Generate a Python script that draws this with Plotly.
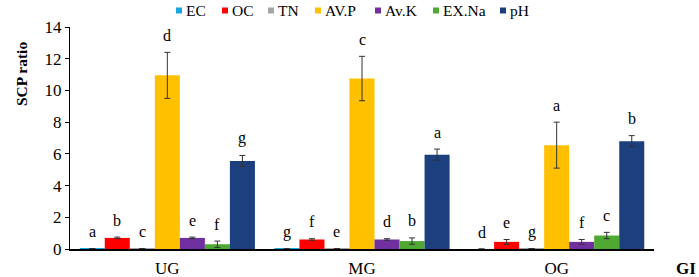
import plotly.graph_objects as go

groups = ["UG", "MG", "OG"]
series = ["EC", "OC", "TN", "AV.P", "Av.K", "EX.Na", "pH"]
colors = ["#1aa7e0", "#ff0000", "#a5a5a5", "#ffc000", "#7030a0", "#4ea832", "#1c3f7e"]

values = {
    "EC":    [0.03, 0.03, 0.0],
    "OC":    [0.70, 0.60, 0.45],
    "TN":    [0.03, 0.03, 0.03],
    "AV.P":  [10.95, 10.75, 6.55],
    "Av.K":  [0.70, 0.60, 0.45],
    "EX.Na": [0.30, 0.50, 0.85],
    "pH":    [5.55, 5.95, 6.80],
}
errors = {
    "EC":    [0.0, 0.0, 0.0],
    "OC":    [0.05, 0.05, 0.15],
    "TN":    [0.0, 0.0, 0.0],
    "AV.P":  [1.45, 1.40, 1.45],
    "Av.K":  [0.05, 0.05, 0.15],
    "EX.Na": [0.20, 0.20, 0.20],
    "pH":    [0.35, 0.35, 0.35],
}
letters = {
    "EC":    ["a", "g", "d"],
    "OC":    ["b", "f", "e"],
    "TN":    ["c", "e", "g"],
    "AV.P":  ["d", "c", "a"],
    "Av.K":  ["e", "d", "f"],
    "EX.Na": ["f", "b", "c"],
    "pH":    ["g", "a", "b"],
}

FONT = "Times New Roman, Liberation Serif, serif"
W, H = 699, 277
ML, MR, MT, MB = 70, 45, 27, 28
PW, PH = W - ML - MR, H - MT - MB

def px_x(px):
    return (px - ML) / PW

def px_y(py):
    return (H - MB - py) / PH

fig = go.Figure()
for s, c in zip(series, colors):
    fig.add_trace(go.Bar(
        name=s, x=groups, y=values[s], marker_color=c, marker_line_width=0,
        showlegend=False,
        error_y=dict(type="data", array=errors[s], visible=True,
                     color="#333333", thickness=1, width=3),
    ))

n = len(series)
gap = 0.10
bw = (1 - gap) / n
for i, s in enumerate(series):
    for j, g in enumerate(groups):
        xpos = j - (1 - gap) / 2 + bw * (i + 0.5)
        top = values[s][j] + errors[s][j]
        fig.add_annotation(x=xpos, y=top, xref="x", yref="y", text=letters[s][j],
                           showarrow=False, yanchor="middle", yshift=17,
                           font=dict(family=FONT, size=16, color="black"))

# manual legend (compact, as in the reference)
legend_px = [176, 222, 268, 315, 375, 433, 500]
for s, c, lx in zip(series, colors, legend_px):
    fig.add_shape(type="rect", xref="paper", yref="paper",
                  x0=px_x(lx), x1=px_x(lx + 6), y0=px_y(13.5), y1=px_y(7.5),
                  fillcolor=c, line_width=0)
    fig.add_annotation(x=px_x(lx + 8), y=px_y(10.5), xref="paper", yref="paper",
                       text=s, showarrow=False, xanchor="left", yanchor="middle",
                       font=dict(family=FONT, size=15.5, color="black"))

fig.add_annotation(x=px_x(22), y=px_y(74), xref="paper", yref="paper",
                   text="<b>SCP ratio</b>", textangle=-90, showarrow=False,
                   xanchor="center", yanchor="middle",
                   font=dict(family=FONT, size=15.5, color="black"))

fig.add_annotation(x=px_x(698), y=px_y(268), xref="paper", yref="paper", text="<b>GI</b>",
                   showarrow=False, xanchor="right", yanchor="middle",
                   font=dict(family=FONT, size=17, color="black"))

fig.update_layout(
    width=W, height=H,
    margin=dict(l=ML, r=MR, t=MT, b=MB, autoexpand=False),
    barmode="group", bargap=gap, bargroupgap=0,
    plot_bgcolor="white", paper_bgcolor="white",
    font=dict(family=FONT, size=15, color="black"),
    showlegend=False,
    xaxis=dict(type="category", range=[-0.5, 2.5], showline=True, linecolor="black",
               linewidth=1.5, ticks="", tickfont=dict(family=FONT, size=17), ticklabelstandoff=3),
    yaxis=dict(range=[0, 14], tickvals=[0, 2, 4, 6, 8, 10, 12, 14], showline=True,
               linecolor="black", linewidth=1, ticks="outside", ticklen=4, tickcolor="black",
               showgrid=False, zeroline=False, tickfont=dict(family=FONT, size=17)),
)
fig.write_html("out.html", config={"displayModeBar": False},
               post_script="document.body.style.margin='0';")
